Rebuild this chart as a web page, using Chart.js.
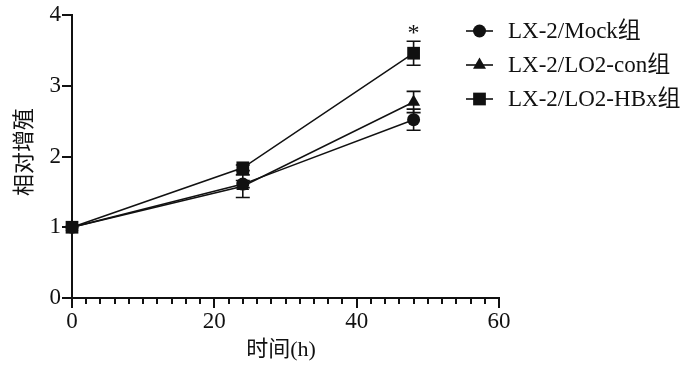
<!DOCTYPE html>
<html><head><meta charset="utf-8">
<script src="https://cdn.jsdelivr.net/npm/chart.js@4/dist/chart.umd.min.js"></script>
<style>html,body{margin:0;padding:0;background:#fff}#wrap{width:700px;height:366px}</style>
</head><body><div id="wrap"><canvas id="c" width="700" height="366"></canvas></div>
<script>
const timePoints = [0, 24, 48];
const seriesNames = ['LX-2/Mock组', 'LX-2/LO2-con组', 'LX-2/LO2-HBx组'];
const mockValues = [1, 1.61, 2.52];
const mockErrors = [0, 0.05, 0.15];
const conValues = [1, 1.58, 2.77];
const conErrors = [0, 0.16, 0.15];
const hbxValues = [1, 1.84, 3.46];
const hbxErrors = [0, 0.04, 0.17];
const pointStyles = ['circle', 'triangle', 'rect'];
const pointSizes = [6.5, 7.5, 9];
const xTicks = [0, 20, 40, 60];
const yTicks = [0, 1, 2, 3, 4];
const xTitle = '时间(h)';
const yTitle = '相对增殖';
const sigMark = '*';
const sigIndex = 2;

const allValues = [mockValues, conValues, hbxValues];
const allErrors = [mockErrors, conErrors, hbxErrors];
const LATIN = '"Liberation Serif","Noto Sans CJK SC",serif';

const datasets = allValues.map((vals, i) => ({
  label: seriesNames[i],
  data: timePoints.map((t, j) => ({x: t, y: vals[j]})),
  errors: allErrors[i],
  borderColor: '#111', backgroundColor: '#111', borderWidth: 1.5,
  pointStyle: pointStyles[i], pointRadius: pointSizes[i], pointHoverRadius: pointSizes[i],
  pointBackgroundColor: '#111', pointBorderColor: '#111', pointBorderWidth: 0,
  fill: false, tension: 0, clip: false
}));

const extras = {
  id: 'extras',
  beforeDatasetsDraw(chart) {
    const ctx = chart.ctx, xs = chart.scales.x, ys = chart.scales.y;
    ctx.save();
    ctx.strokeStyle = '#111'; ctx.lineWidth = 1.6;
    chart.data.datasets.forEach(ds => {
      ds.data.forEach((p, j) => {
        const e = ds.errors[j]; if (!e) return;
        const px = xs.getPixelForValue(p.x);
        const top = ys.getPixelForValue(p.y + e), bot = ys.getPixelForValue(p.y - e);
        ctx.beginPath();
        ctx.moveTo(px, top); ctx.lineTo(px, bot);
        ctx.moveTo(px - 7, top); ctx.lineTo(px + 7, top);
        ctx.moveTo(px - 7, bot); ctx.lineTo(px + 7, bot);
        ctx.stroke();
      });
    });
    ctx.restore();
  },
  afterDraw(chart) {
    const ctx = chart.ctx, xs = chart.scales.x, ys = chart.scales.y;
    ctx.save();
    ctx.strokeStyle = '#111'; ctx.lineWidth = 2;
    const y0 = ys.getPixelForValue(0);
    for (let v = xs.min; v <= xs.max; v += 2) {
      if (v % 20 === 0) continue;
      const px = Math.round(xs.getPixelForValue(v));
      ctx.beginPath(); ctx.moveTo(px, y0); ctx.lineTo(px, y0 + 6); ctx.stroke();
    }
    ctx.fillStyle = '#111';
    ctx.font = '22px ' + LATIN;
    ctx.textAlign = 'center'; ctx.textBaseline = 'middle';
    ctx.fillText(xTitle, 281, 350);
    ctx.save();
    ctx.translate(25, 152); ctx.rotate(-Math.PI / 2);
    ctx.fillText(yTitle, 0, 0);
    ctx.restore();
    const sds = chart.data.datasets[sigIndex];
    const lastIdx = sds.data.length - 1;
    const sp = sds.data[lastIdx];
    ctx.font = '24px ' + LATIN;
    ctx.fillText(sigMark, xs.getPixelForValue(sp.x), ys.getPixelForValue(sp.y + sds.errors[lastIdx]) - 7);
    const rowsY = [31, 65, 99];
    chart.data.datasets.forEach((ds, i) => {
      const y = rowsY[i];
      ctx.strokeStyle = '#111'; ctx.lineWidth = 1.6;
      ctx.beginPath(); ctx.moveTo(466, y); ctx.lineTo(493, y); ctx.stroke();
      Chart.helpers.drawPoint(ctx, {pointStyle: ds.pointStyle, radius: ds.pointRadius, borderWidth: 0, rotation: 0}, 479.5, y);
      ctx.fillStyle = '#111';
      ctx.textAlign = 'left';
      ctx.font = '23px ' + LATIN;
      ctx.fillText(ds.label, 508, y + 1);
    });
    ctx.restore();
  }
};

new Chart(document.getElementById('c'), {
  type: 'line',
  data: { datasets },
  options: {
    responsive: false, animation: false,
    layout: { padding: { top: 15, right: 201, left: 0, bottom: 0 } },
    plugins: { legend: { display: false }, tooltip: { enabled: false } },
    scales: {
      x: {
        type: 'linear', min: 0, max: 60,
        afterFit(s) { s.height = 68; },
        afterBuildTicks(s) { s.ticks = xTicks.map(v => ({value: v})); },
        border: { display: true, color: '#111', width: 2 },
        grid: { drawOnChartArea: false, drawTicks: true, tickLength: 10, color: '#111', lineWidth: 2 },
        ticks: { color: '#111', font: { family: LATIN, size: 23 }, padding: 0, maxRotation: 0 }
      },
      y: {
        type: 'linear', min: 0, max: 4,
        afterFit(s) { s.width = 72; },
        afterBuildTicks(s) { s.ticks = yTicks.map(v => ({value: v})); },
        border: { display: true, color: '#111', width: 2 },
        grid: { drawOnChartArea: false, drawTicks: true, tickLength: 10, color: '#111', lineWidth: 2 },
        ticks: { color: '#111', font: { family: LATIN, size: 23 }, padding: 1 }
      }
    }
  },
  plugins: [extras]
});
</script></body></html>
